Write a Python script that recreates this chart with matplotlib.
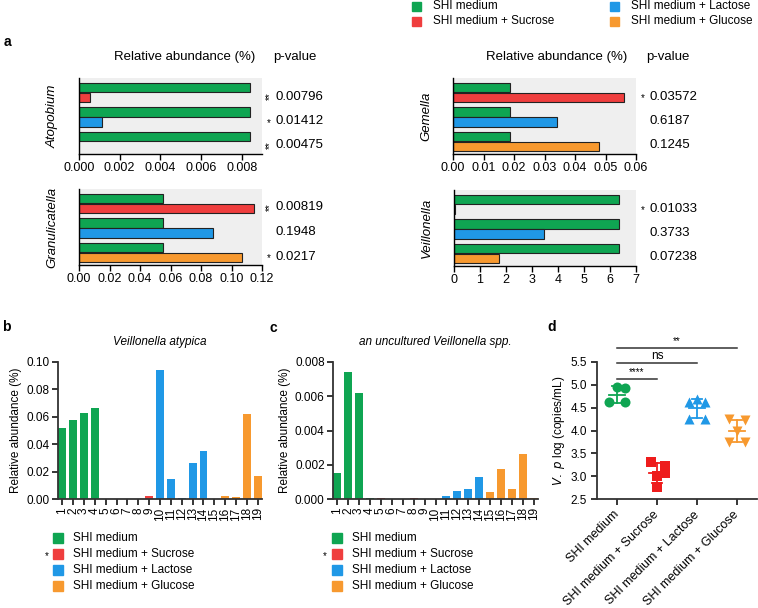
import matplotlib
matplotlib.use("Agg")
import matplotlib.pyplot as plt
import numpy as np
from matplotlib.patches import Rectangle
import matplotlib.transforms as mtransforms

plt.rcParams['font.family'] = ['Liberation Sans', 'DejaVu Sans']

W, H = 758, 608
GREEN = '#0fa552'
RED = '#ef3e3e'
BLUE = '#2098e6'
ORANGE = '#f7992f'
RED_D = '#ee1c1c'

groups = ['SHI medium', 'SHI medium + Sucrose', 'SHI medium + Lactose', 'SHI medium + Glucose']
group_colors = [GREEN, RED, BLUE, ORANGE]

# ---- panel a data ----
genera = ['Atopobium', 'Gemella', 'Granulicatella', 'Veillonella']
ctrl_vals = [0.00843, 0.0186, 0.055, 6.35]
treat_vals = {
    'Atopobium': [0.00054, 0.00113, 0.0],
    'Gemella': [0.056, 0.034, 0.0478],
    'Granulicatella': [0.1148, 0.088, 0.107],
    'Veillonella': [0.02, 3.46, 1.73],
}
pvals = {
    'Atopobium': ['0.00796', '0.01412', '0.00475'],
    'Gemella': ['0.03572', '0.6187', '0.1245'],
    'Granulicatella': ['0.00819', '0.1948', '0.0217'],
    'Veillonella': ['0.01033', '0.3733', '0.07238'],
}
pstars = {
    'Atopobium': ['**', '*', '**'],
    'Gemella': ['*', '', ''],
    'Granulicatella': ['**', '', '*'],
    'Veillonella': ['*', '', ''],
}
xlims = {'Atopobium': 0.009, 'Gemella': 0.06, 'Granulicatella': 0.12, 'Veillonella': 7}
xticks = {
    'Atopobium': [0, 0.002, 0.004, 0.006, 0.008],
    'Gemella': [0, 0.01, 0.02, 0.03, 0.04, 0.05, 0.06],
    'Granulicatella': [0, 0.02, 0.04, 0.06, 0.08, 0.10, 0.12],
    'Veillonella': [0, 1, 2, 3, 4, 5, 6, 7],
}
xticklabels = {
    'Atopobium': ['0.000', '0.002', '0.004', '0.006', '0.008'],
    'Gemella': ['0.00', '0.01', '0.02', '0.03', '0.04', '0.05', '0.06'],
    'Granulicatella': ['0.00', '0.02', '0.04', '0.06', '0.08', '0.10', '0.12'],
    'Veillonella': ['0', '1', '2', '3', '4', '5', '6', '7'],
}

# ---- panel b / c data ----
samples = list(range(1, 20))
sample_group = [0]*4 + [1]*5 + [2]*5 + [3]*5
atypica = [0.0516, 0.0574, 0.0625, 0.0662, 0, 0, 0, 0, 0.0022,
           0.0942, 0.0146, 0.0005, 0.0263, 0.035, 0, 0.002, 0.0012, 0.0618, 0.0168]
uncult = [0.00149, 0.00739, 0.00618, 0.00008, 0.00008, 0, 0, 0.00008, 0, 0,
          0.00018, 0.00047, 0.00059, 0.00127, 0.00038, 0.00178, 0.00059, 0.0026, 0.00005]

# ---- panel d data ----
d_points = [
    [4.95, 4.93, 4.62, 4.62],
    [3.30, 3.22, 3.07, 3.00, 2.76],
    [4.68, 4.62, 4.62, 4.25, 4.25],
    [4.25, 4.22, 3.98, 3.75, 3.75],
]
d_markers = ['o', 's', '^', 'v']
d_colors = [GREEN, RED_D, BLUE, ORANGE]

fig = plt.figure(figsize=(W/100, H/100), dpi=100)


def ax_px(l, t, r, b):
    return fig.add_axes([l/W, 1 - b/H, (r-l)/W, (b-t)/H])


def ftext(x, y, s, **kw):
    fig.text(x/W, 1 - y/H, s, **kw)


def fsquare(x, y, c, size=10):
    fig.patches.append(Rectangle((x/W, 1 - (y+size/2)/H), size/W, size/H,
                                 transform=fig.transFigure, color=c, figure=fig))


# ---------------- panel a ----------------
boxes = {
    'Atopobium': (79, 78, 262, 154),
    'Gemella': (453, 78, 636, 154),
    'Granulicatella': (79, 189, 262, 265),
    'Veillonella': (454, 190, 636, 266),
}
for gi, g in enumerate(genera):
    l, t, r, b = boxes[g]
    ax = ax_px(l, t, r, b)
    ax.set_facecolor('#efefef')
    hgt = b - t
    pitch = 24.5
    bh = 9.6
    for k in range(3):
        yc = 9.5 + pitch*k
        yt = 19.5 + pitch*k
        ax.barh(yc, ctrl_vals[gi], height=bh, color=GREEN, edgecolor='#222222', linewidth=0.8)
        if treat_vals[g][k] > 0:
            ax.barh(yt, treat_vals[g][k], height=bh, color=group_colors[k+1],
                    edgecolor='#222222', linewidth=0.8)
        ypx = t + yt - 1
        px0 = r + 13
        ftext(px0, ypx, pvals[g][k], fontsize=9.5, ha='left', va='center')
        st = pstars[g][k]
        if st == '**':
            ftext(px0 - 5, ypx, st, fontsize=7, ha='center', va='center', rotation=90)
        elif st == '*':
            ftext(px0 - 6, ypx + 2, st, fontsize=7, ha='center', va='center')
    ax.set_ylim(hgt, 0)
    ax.set_xlim(0, xlims[g])
    ax.set_xticks(xticks[g])
    ax.set_xticklabels(xticklabels[g], fontsize=9)
    ax.set_yticks([])
    for s in ['top', 'right']:
        ax.spines[s].set_visible(False)
    for s in ['left', 'bottom']:
        ax.spines[s].set_linewidth(1.0)
    ax.tick_params(axis='x', direction='out', length=4, width=1, pad=2)
    ax.set_ylabel(g, fontsize=9.5, style='italic', labelpad=15)

ftext(185, 57, 'Relative abundance (%)', fontsize=9.5, ha='center', va='center')
ftext(295, 57, 'p-value', fontsize=9.5, ha='center', va='center')
ftext(557, 57, 'Relative abundance (%)', fontsize=9.5, ha='center', va='center')
ftext(668, 57, 'p-value', fontsize=9.5, ha='center', va='center')
ftext(4, 42, 'a', fontsize=10, fontweight='bold', ha='left', va='center')

# top legend
leg_pos = [(412, 6), (412, 21), (610, 6), (610, 21)]
for (x, y), lab, c in zip(leg_pos, groups, group_colors):
    fsquare(x, y, c, 9)
    ftext(x + 21, y, lab, fontsize=8.5, ha='left', va='center')

# ---------------- panels b & c ----------------
def bar_panel(box, vals, ymax, yticks, ytl, title, leg_x, star_x):
    l, t, r, b = box
    ax = ax_px(l, t, r, b)
    cols = [group_colors[g] for g in sample_group]
    ax.bar(samples, vals, width=0.72, color=cols, linewidth=0)
    ax.set_xlim(0.62, 19.38)
    ax.set_ylim(0, ymax)
    ax.set_yticks(yticks)
    ax.set_yticklabels(ytl, fontsize=8.5)
    ax.set_xticks(samples)
    ax.set_xticklabels([str(s) for s in samples], rotation=90, fontsize=8.5)
    for s in ['top', 'right']:
        ax.spines[s].set_visible(False)
    for s in ['left', 'bottom']:
        ax.spines[s].set_linewidth(1.3)
        ax.spines[s].set_color('#333333')
    ax.tick_params(direction='out', length=4, width=1.1, pad=2)
    ax.set_ylabel('Relative abundance (%)', fontsize=8.5, labelpad=3)
    ax.set_title(title, fontsize=8.5, style='italic', pad=12)
    for i, (lab, c) in enumerate(zip(groups, group_colors)):
        y = 538 + 16*i
        fsquare(leg_x, y, c, 10)
        ftext(leg_x + 20, y, lab, fontsize=8.5, ha='left', va='center')
    ftext(star_x, 556, '*', fontsize=7, ha='center', va='center')
    return ax

bar_panel((58, 362, 262, 499), atypica, 0.10, [0, 0.02, 0.04, 0.06, 0.08, 0.10],
          ['0.00', '0.02', '0.04', '0.06', '0.08', '0.10'], 'Veillonella atypica', 53, 47)
bar_panel((333, 362, 538, 499), uncult, 0.008, [0, 0.002, 0.004, 0.006, 0.008],
          ['0.000', '0.002', '0.004', '0.006', '0.008'], 'an uncultured Veillonella spp.', 332, 325)
ftext(2, 327, 'b', fontsize=10, fontweight='bold', ha='left', va='center')
ftext(270, 328, 'c', fontsize=10, fontweight='bold', ha='left', va='center')

# ---------------- panel d ----------------
ax = ax_px(597, 362, 757, 499)
offsets = {
    0: [0.0, 0.2, -0.2, 0.2],
    1: [-0.15, 0.2, 0.2, 0.0, 0.0],
    2: [0.0, -0.2, 0.2, -0.2, 0.2],
    3: [-0.2, 0.2, 0.0, -0.2, 0.2],
}
for i, pts in enumerate(d_points):
    pts = np.array(pts)
    xs = i + np.array(offsets[i])
    ax.scatter(xs, pts, marker=d_markers[i], s=52, color=d_colors[i], zorder=3, linewidths=0)
    m = pts.mean()
    sd = pts.std(ddof=1)
    ax.plot([i - 0.2, i + 0.2], [m, m], color=d_colors[i], lw=1.3, zorder=4)
    ax.plot([i, i], [m - sd, m + sd], color=d_colors[i], lw=1.3, zorder=4)
    for v in (m - sd, m + sd):
        ax.plot([i - 0.12, i + 0.12], [v, v], color=d_colors[i], lw=1.3, zorder=4)
ax.set_xlim(-0.5, 3.5)
ax.set_ylim(2.5, 5.5)
ax.set_yticks([2.5, 3.0, 3.5, 4.0, 4.5, 5.0, 5.5])
ax.set_yticklabels(['2.5', '3.0', '3.5', '4.0', '4.5', '5.0', '5.5'], fontsize=8.5)
ax.set_xticks(range(4))
ax.set_xticklabels(groups, rotation=45, ha='right', va='center', rotation_mode='anchor', fontsize=9)
shift = mtransforms.ScaledTranslation(5/100, -1/100, fig.dpi_scale_trans)
for lab in ax.get_xticklabels():
    lab.set_transform(lab.get_transform() + shift)
for s in ['top', 'right']:
    ax.spines[s].set_visible(False)
for s in ['left', 'bottom']:
    ax.spines[s].set_linewidth(1.3)
    ax.spines[s].set_color('#333333')
ax.tick_params(direction='out', length=4, width=1.1, pad=3)
ax.tick_params(axis='x', pad=6)
ax.set_ylabel(r'$\it{V.\ p}$ log (copies/mL)', fontsize=8.5, labelpad=3)
sig = [(0, 1, 5.13, '****'), (0, 2, 5.48, 'ns'), (0, 3, 5.81, '**')]
for a, bb, y, lab in sig:
    ax.plot([a, bb], [y, y], color='#333333', lw=1.1, clip_on=False)
    ax.text((a + bb)/2, y + 0.03, lab, ha='center', va='bottom',
            fontsize=7 if '*' in lab else 8.5, clip_on=False)
ftext(547, 327, 'd', fontsize=10, fontweight='bold', ha='left', va='center')

fig.savefig('out.png', dpi=100)
